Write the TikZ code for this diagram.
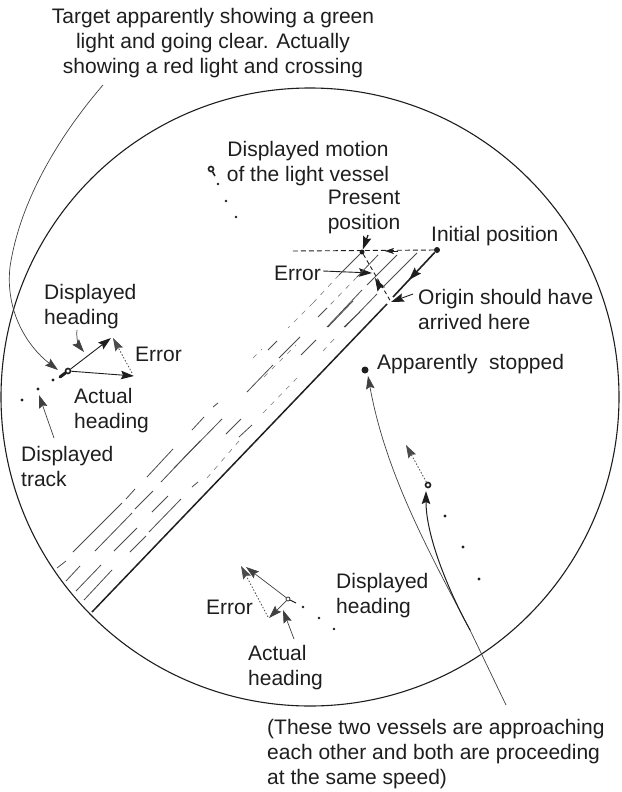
\documentclass[tikz,border=0pt]{standalone}
\usepackage{fontspec}
\setmainfont{Liberation Sans}
\usetikzlibrary{arrows.meta,decorations.markings}
\definecolor{ink}{HTML}{1E1E1E}
\tikzset{
  x=1pt,y=-1pt,
  lbl/.style={font=\fontsize{21}{25}\selectfont,text=ink,inner sep=0pt,align=left,anchor=west},
  lblc/.style={lbl,align=center,anchor=center},
  tip/.style={-{Stealth[length=13pt,width=8.5pt,inset=2pt]}},
  line/.style={draw=ink,line width=0.9pt},
  thin line/.style={draw=ink!85,line width=0.7pt},
  hatch/.style={draw=ink!80,line width=0.8pt},
  faint/.style={draw=ink!60,line width=0.6pt,dash pattern=on 5pt off 6pt},
  errline/.style={draw=ink!80,line width=0.8pt,dash pattern=on 1.5pt off 1.8pt},
  dotm/.style={circle,fill=ink,inner sep=0pt,minimum size=3.4pt},
  ship/.style={circle,draw=ink,line width=1.6pt,fill=white,inner sep=0pt,minimum size=6pt},
}
\begin{document}
\begin{tikzpicture}
\useasboundingbox (0,0) rectangle (621,792);
% radar screen
\draw[draw=ink,line width=1.1pt] (310,397) circle [radius=309];

% labels
\node[lblc] (t1) at (213,43) {Target apparently showing a green\\light and going clear. Actually\\showing a red light and crossing};
\node[lblc] (t2) at (308,164) {Displayed motion\\of the light vessel};
\node[lblc] (t3) at (364,212) {Present\\position};
\node[lbl] (t4) at (431,236) {Initial position};
\node[lbl] (t5) at (274,273) {Error};
\node[lbl] (t6) at (418,309) {Origin should have\\arrived here};
\node[lbl] (t7) at (377,364) {Apparently\ \ stopped};
\node[lbl] (t8) at (44,307) {Displayed\\heading};
\node[lbl] (t9) at (135,354) {Error};
\node[lbl] (t10) at (74,411) {Actual\\heading};
\node[lbl] (t11) at (21,466) {Displayed\\track};
\node[lbl] (t12) at (336,596) {Displayed\\heading};
\node[lbl] (t13) at (206,607) {Error};
\node[lbl] (t14) at (248,668) {Actual\\heading};
\node[lbl] (t15) at (267,754) {(These two vessels are approaching\\each other and both are proceeding\\at the same speed)};

% initial and present positions
\node[dotm,minimum size=6pt] (init) at (437,250) {};
\node[dotm,minimum size=5pt] (pres) at (362,252) {};
\coordinate (gapA) at (393,297);
\coordinate (gapB) at (387,304);
\coordinate (mainEnd) at (92,612);
\coordinate (headW) at (292,251);
\coordinate (origin) at (391,302);
\draw[draw=ink,line width=1.6pt,postaction={decorate},decoration={markings,mark=at position 0.62 with {\arrow{Stealth[length=13pt,width=8.5pt,inset=2pt]}}}] (init) -- (gapA);
\draw[draw=ink,line width=1.5pt] (gapB) -- (mainEnd);
\draw[draw=ink,line width=0.9pt,dash pattern=on 5pt off 3pt] (init) -- (headW);
\coordinate (midtip) at (385,251);
\coordinate (midfrom) at (398,251);
\draw[-{Stealth[length=9pt,width=6pt]},draw=ink,line width=0.5pt] (midfrom) -- (midtip);
% pointers near the present position
\coordinate (presFrom) at (368,235);
\draw[tip,draw=ink,line width=1.3pt] (presFrom) -- (pres);
\draw[draw=ink,line width=0.9pt,dash pattern=on 4pt off 3pt] (pres) -- (origin);
\coordinate (etipA) at (375,278);
\coordinate (etipB) at (380,287);
\draw[tip,draw=ink,line width=0.9pt] (etipB) -- (etipA);
\coordinate (errTip) at (372,273);
\draw[tip,line] (t5.east) ++(2,-2) -- (errTip);
\coordinate (oFrom) at (413,294);
\draw[tip,line] (oFrom) -- (origin);

% parallel track lines, solid parts
\foreach \ax/\ay/\bx/\by in {
  360/254/339/275, 378/255/357/277, 397/255/367/285, 417/253/383/287,
  362/290/327/327, 377/294/345/327, 327/308/318/317, 328/327/353/301,
  279/358/300/337, 301/355/316/340, 344/327/360/312, 268/350/277/341,
  247/392/273/365, 226/434/241/419, 239/437/252/425, 213/407/218/403,
  192/430/204/417, 174/468/222/419, 192/487/198/482, 147/477/173/449,
  161/482/200/441, 126/499/135/489, 73/552/122/503, 95/551/132/513,
  135/509/153/491, 114/551/137/528, 152/512/168/496, 130/552/146/536,
  149/532/181/499,
  57/568/66/561, 66/581/80/566, 76/591/101/565, 84/600/112/570}
  {\draw[hatch] (\ax,\ay) -- (\bx,\by);}
% parallel track lines, broken parts
\foreach \ax/\ay/\bx/\by in {
  339/275/313/303, 313/303/288/328, 357/277/327/308, 323/351/335/338,
  264/377/296/345, 253/358/262/349, 263/413/297/378, 207/478/239/441}
  {\draw[faint] (\ax,\ay) -- (\bx,\by);}

% vessel on the left
\node[ship,minimum size=5pt] (vl) at (68,371) {};
\coordinate (vltail) at (60,377);
\draw[draw=ink,line width=3pt,line cap=round] (vl) -- (vltail);
\coordinate (vld) at (111,338);
\coordinate (vla) at (134,376);
\draw[tip,line] (vl) -- (vld);
\draw[tip,line] (vl) -- (vla);
\coordinate (vle) at (132,373);
\coordinate (vlet) at (113,338);
\draw[tip,errline] (vle) -- (vlet);
\node[dotm] (dl1) at (53,380) {};
\node[dotm] (dl2) at (38,389) {};
\node[dotm] (dl3) at (22,400) {};
\coordinate (dtFrom) at (54,438);
\coordinate (dtTo) at (39,395);
\draw[tip,thin line] (dtFrom) -- (dtTo);
\coordinate (dhFrom) at (77,330);
\coordinate (dhTo) at (84,352);
\draw[tip,thin line] (dhFrom) .. controls (76,338) and (79,346) .. (dhTo);
\coordinate (tFrom) at (103,85);
\coordinate (tTo) at (58,370);
\draw[tip,thin line] (tFrom) .. controls (60,135) and (20,200) .. (10,267) .. controls (5,312) and (28,347) .. (tTo);

% light vessel
\node[ship,minimum size=5pt] (lv) at (211,169) {};
\coordinate (lvtail) at (215,176);
\draw[draw=ink,line width=1.6pt] (lv) -- (lvtail);
\node[dotm,minimum size=2.8pt] (lv1) at (218,184) {};
\node[dotm,minimum size=2.8pt] (lv2) at (226,201) {};
\node[dotm,minimum size=2.8pt] (lv3) at (236,217) {};

% apparently stopped vessel and the crossing one
\node[dotm,minimum size=7pt] (stop) at (365,370) {};
\node[ship,minimum size=5pt] (vr) at (428,485) {};
\node[dotm] (vr1) at (445,516) {};
\node[dotm] (vr2) at (463,547) {};
\node[dotm] (vr3) at (479,579) {};
\coordinate (vrt) at (406,445);
\draw[tip,errline] (vr) -- (vrt);
\coordinate (apFrom) at (506,705);
\coordinate (apJoin) at (470,630);
\coordinate (a1) at (368,376);
\coordinate (a2) at (426,491);
\draw[thin line] (apFrom) -- (apJoin);
\draw[tip,thin line] (apJoin) .. controls (425,545) and (385,470) .. (a1);
\draw[tip,draw=ink,line width=1pt] (apJoin) .. controls (447,588) and (426,535) .. (a2);

% vessel at the bottom
\node[ship,minimum size=4pt,line width=0.7pt] (vb) at (288,599) {};
\coordinate (vbtail) at (296,603);
\draw[draw=ink,line width=1pt] (vb) -- (vbtail);
\coordinate (vbd) at (246,567);
\coordinate (vba) at (269,618);
\coordinate (vbe) at (268,617);
\coordinate (vbet) at (241,566);
\draw[tip,thin line] (vb) -- (vbd);
\draw[tip,thin line] (vb) -- (vba);
\draw[tip,errline] (vbe) -- (vbet);
\coordinate (ahFrom) at (294,639);
\coordinate (ahTo) at (283,610);
\draw[tip,thin line] (ahFrom) -- (ahTo);
\node[dotm,minimum size=2.6pt] (vb1) at (303,607) {};
\node[dotm,minimum size=2.6pt] (vb2) at (319,618) {};
\node[dotm,minimum size=2.6pt] (vb3) at (334,629) {};
\end{tikzpicture}
\end{document}
